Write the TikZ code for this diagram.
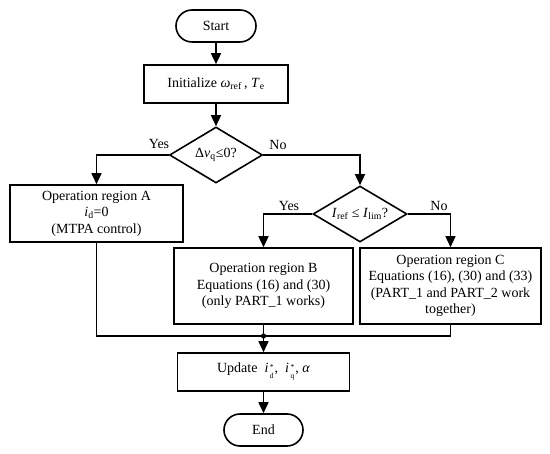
\documentclass[tikz,border=0pt]{standalone}
\usepackage{fontspec}
\setmainfont{Liberation Serif}
\usetikzlibrary{shapes.geometric,arrows.meta}
\newcommand{\sub}[1]{\textsubscript{#1}}
\newcommand{\supsub}[2]{\kern1.5pt\raisebox{-0.2ex}{\fontsize{7.5}{8.8}\selectfont\begin{tabular}[c]{@{}l@{}}#1\\#2\end{tabular}}\kern1pt}
\begin{document}
\begin{tikzpicture}[x=1pt,y=-1pt,
  every node/.style={font=\fontsize{14}{16.5}\selectfont},
  base/.style={draw,line width=1.6pt,inner sep=0pt,align=center},
  term/.style={base,rectangle,rounded corners=16pt,minimum height=32pt},
  procbox/.style={base,rectangle},
  decide/.style={base,diamond,aspect=1.66},
  conn/.style={line width=1.6pt,-{Triangle[length=11pt,width=10pt]}},
  plain/.style={line width=1.6pt},
  lab/.style={inner sep=0pt}]
\useasboundingbox (0,0) rectangle (550,454);
\node[term,minimum width=80pt] (start) at (216,26) {Start};
\node[procbox,minimum width=144pt,minimum height=38pt] (init) at (216,84) {Initialize \textit{ω}\sub{ref}\,, \textit{T}\sub{e}};
\node[decide,minimum width=93pt,minimum height=56pt] (d1) at (216,155) {Δ\textit{v}\sub{q}≤0?};
\node[procbox,minimum width=173pt,minimum height=57pt] (A) at (96.5,213.5) {Operation region A\\\textit{i}\sub{d}=0\\(MTPA control)};
\node[decide,minimum width=94pt,minimum height=56pt] (d2) at (360,214) {\textit{I}\sub{ref} ≤ \textit{I}\sub{lim}?};
\node[procbox,minimum width=179pt,minimum height=76pt] (B) at (263.5,286) {Operation region B\\Equations (16) and (30)\\(only PART\_1 works)};
\node[procbox,minimum width=181pt,minimum height=76pt] (C) at (450.5,286) {Operation region C\\Equations (16), (30) and (33)\\(PART\_1 and PART\_2 work\\together)};
\node[procbox,minimum width=172pt,minimum height=38pt] (upd) at (263.5,372) {Update \ \textit{i}\supsub{*}{d}, \ \textit{i}\supsub{*}{q}, \textit{α}};
\node[term,minimum width=79pt] (end) at (263.5,430) {End};
\coordinate (m) at (263.5,336);
\draw[conn] (start) -- (init);
\draw[conn] (init) -- (d1);
\draw[conn] (d1.west) -| (A.north);
\draw[conn] (d1.east) -| (d2.north);
\draw[conn] (d2.west) -| (B.north);
\draw[conn] (d2.east) -| (C.north);
\draw[plain] (A.south) -- (A.south |- m) -- (C.south |- m) -- (C.south);
\draw[plain] (B.south) -- (m);
\fill (m) circle (2.6pt);
\draw[conn] (m) -- (upd.north);
\draw[conn] (upd) -- (end);
\node[lab] (y1) at (159,144) {Yes};
\node[lab] (n1) at (278,145) {No};
\node[lab] (y2) at (289,206) {Yes};
\node[lab] (n2) at (439,206) {No};
\end{tikzpicture}
\end{document}
